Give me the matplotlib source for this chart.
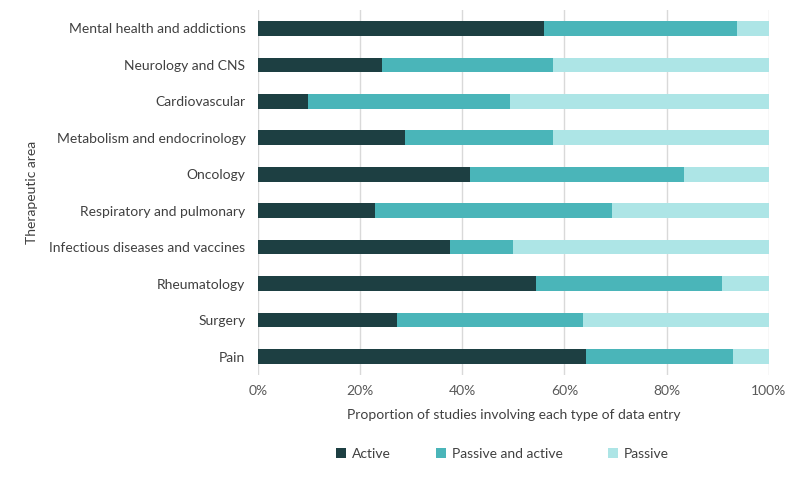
import matplotlib.pyplot as plt
import numpy as np

plt.rcParams['font.family'] = ['Lato', 'DejaVu Sans']

# data (percent of studies), top to bottom as shown
areas = ['Mental health and addictions', 'Neurology and CNS', 'Cardiovascular',
         'Metabolism and endocrinology', 'Oncology', 'Respiratory and pulmonary',
         'Infectious diseases and vaccines', 'Rheumatology', 'Surgery', 'Pain']
active = [55.9, 24.3, 9.7, 28.8, 41.6, 23.0, 37.5, 54.5, 27.3, 64.3]
passive_active = [37.8, 33.4, 39.6, 29.0, 41.8, 46.3, 12.5, 36.4, 36.4, 28.6]
passive = [6.3, 42.3, 50.7, 42.2, 16.6, 30.7, 50.0, 9.1, 36.3, 7.1]

c_active = '#1d3f42'
c_pa = '#4ab5b9'
c_passive = '#ade5e6'

fig = plt.figure(figsize=(8, 4.8), dpi=100)
ax = fig.add_axes([0.3225, 0.219, 0.6385, 0.76])

y = np.arange(len(areas))
a = np.array(active)
pa = np.array(passive_active)
p = np.array(passive)
ax.barh(y, a, height=0.4, color=c_active, label='Active', zorder=3)
ax.barh(y, pa, left=a, height=0.4, color=c_pa, label='Passive and active', zorder=3)
ax.barh(y, p, left=a + pa, height=0.4, color=c_passive, label='Passive', zorder=3)

ax.set_ylim(len(areas) - 0.5, -0.5)
ax.set_xlim(0, 100)
ax.set_yticks(y)
ax.set_yticklabels(areas, fontsize=10, color='#404040')
ax.set_xticks([0, 20, 40, 60, 80, 100])
ax.set_xticklabels(['0%', '20%', '40%', '60%', '80%', '100%'], fontsize=10, color='#595959')
ax.tick_params(axis='both', length=0)
ax.tick_params(axis='x', pad=7)
ax.tick_params(axis='y', pad=9)
ax.grid(axis='x', color='#d9d9d9', linewidth=1, zorder=0)
for s in ax.spines.values():
    s.set_visible(False)

ax.set_xlabel('Proportion of studies involving each type of data entry', fontsize=10,
              color='#404040', labelpad=9)
fig.text(0.04, 0.6, 'Therapeutic area', rotation=90, fontsize=10, color='#404040',
         ha='center', va='center')

fig.legend(loc='center', bbox_to_anchor=(0.628, 0.054), ncol=3, frameon=False,
           fontsize=10, handlelength=0.7, handleheight=0.7, handletextpad=0.4,
           columnspacing=3.3, labelcolor='#404040')

fig.savefig('out.png', dpi=100)
